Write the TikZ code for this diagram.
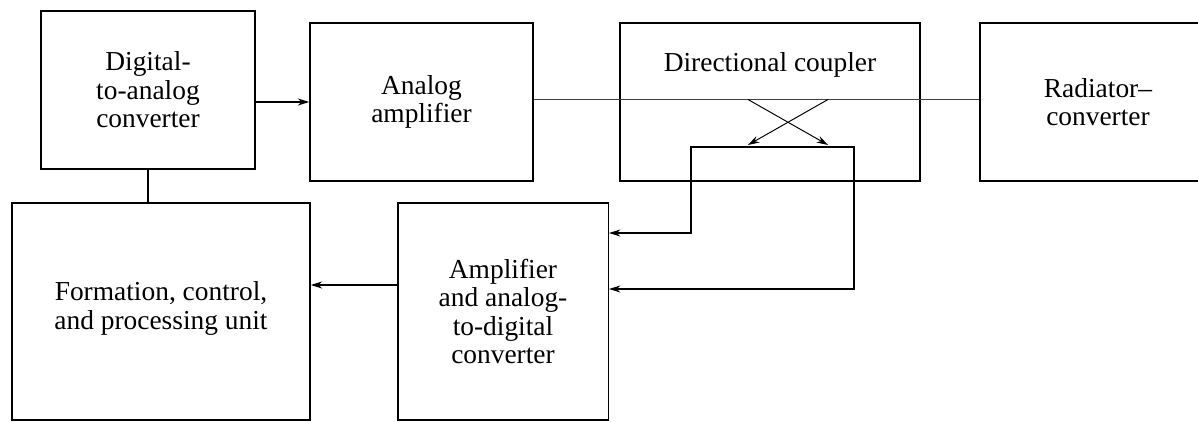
\documentclass[tikz,border=0pt]{standalone}
\usepackage{fontspec}
\setmainfont{Liberation Serif}
\usetikzlibrary{arrows.meta}

\begin{document}
\begin{tikzpicture}
\tikzstyle{block} = [rectangle, draw = black, line width = 0.85pt, align = center, inner sep = 0pt, font = \fontsize{15.6}{16.2}\selectfont]
\tikzstyle{edge} = [-{Stealth[length=6.5pt, width=4pt]}, line width = 0.85pt]
\tikzstyle{tap} = [-{Stealth[length=6.5pt, width=4pt]}, line width = 0.55pt]
\tikzstyle{wire} = [line width = 0.85pt]
\clip (0, 0) rectangle (23.96, -8.44);
% -----------------------------------
% upper row
\node[block, minimum width = 4.28cm, minimum height = 3.16cm] (DAC) at (2.96, -1.80) {Digital-\\to-analog\\converter};
\node[block, minimum width = 4.46cm, minimum height = 3.16cm] (AA) at (8.43, -2.04) {Analog\\amplifier};
\node[block, minimum width = 6.00cm, minimum height = 3.16cm,
      label = {[anchor = center, yshift = -0.86cm, font = \fontsize{15.6}{16.2}\selectfont]north:Directional coupler}] (DC) at (15.40, -2.04) {};
\node[block, minimum width = 4.72cm, minimum height = 3.16cm] (RC) at (21.96, -2.04) {Radiator--\\converter};

% -----------------------------------
% lower row
\node[block, minimum width = 5.96cm, minimum height = 4.34cm] (FCP) at (3.22, -6.23) {Formation, control,\\and processing unit\\[-0.32cm]};
\node[block, minimum width = 4.21cm, minimum height = 4.34cm] (AAD) at (10.06, -6.23) {Amplifier\\and analog-\\to-digital\\converter};

% -----------------------------------
% main line and coupler taps
\draw[line width = 0.45pt, black!75] ([yshift = 0.05cm]AA.east) -- ([yshift = 0.05cm]RC.west);
\coordinate (tapA) at (14.96, -1.99);
\coordinate (tapB) at (16.56, -1.99);
\coordinate (endA) at (16.56, -2.90);
\coordinate (endB) at (14.96, -2.90);
\coordinate (loopL) at (13.82, -2.94);
\coordinate (loopR) at (17.08, -2.94);
\draw[tap] (tapA) -- (endA);
\draw[tap] (tapB) -- (endB);

% -----------------------------------
% connectors
\draw[edge] (DAC.east |- AA.west) -- (AA.west);
\draw[wire] (DAC.south) -- (DAC.south |- FCP.north);
\draw[edge] (loopR) -- (loopL) |- (AAD.east |- 0, -4.66);
\draw[edge] (loopL) -- (loopR) |- (AAD.east |- 0, -5.78);
\draw[edge] (AAD.west |- 0, -5.70) -- (FCP.east |- 0, -5.70);
% -----------------------------------
\end{tikzpicture}
\end{document}
